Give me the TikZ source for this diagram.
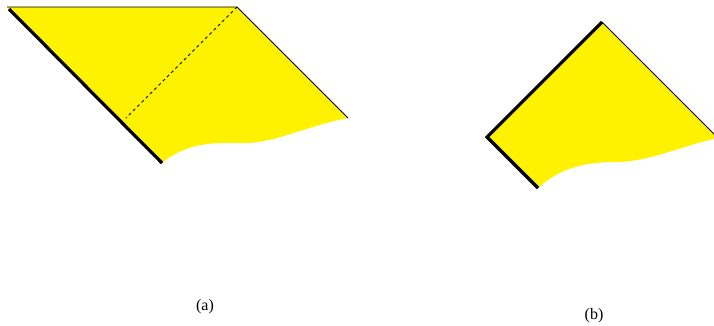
\documentclass[tikz,border=0pt]{standalone}
\usepackage{fontspec}
\setmainfont{Liberation Serif}
\begin{document}
\begin{tikzpicture}[x=1pt,y=-1pt,
  region/.style={fill=yellow,draw=none},
  thinedge/.style={line width=0.8pt},
  thickedge/.style={line width=3.2pt},
  lbl/.style={font=\fontsize{16}{18}\selectfont,inner sep=0pt}]
\useasboundingbox (0,0) rectangle (714,325);
\clip (0,0) rectangle (714,325);
% ---- (a)
\coordinate (a1) at (7,7);
\coordinate (a2) at (237,7);
\coordinate (a3) at (348,118);
\coordinate (a4) at (162,163);
\coordinate (a5) at (126,118);
\fill[region] (a1) -- (a2) -- (a3) .. controls (310,125) and (275,143) .. (245,143)
  .. controls (220,143) and (190,140) .. (a4) -- cycle;
\draw[thinedge] (a1) -- (a2) -- (a3);
\draw[thickedge] (9,9) -- (a4);
\draw[thinedge,dashed,dash pattern=on 3pt off 3pt] (a2) -- (a5);
\node[lbl] (la) at (205,307) {(a)};
% ---- (b)
\coordinate (b1) at (602,22);
\coordinate (b2) at (718,138);
\coordinate (b3) at (538,188);
\coordinate (b4) at (487,137);
\fill[region] (b1) -- (b2) .. controls (680,146) and (650,162) .. (615,162)
  .. controls (585,162) and (560,168) .. (b3) -- (b4) -- cycle;
\draw[thinedge] (b1) -- (b2);
\draw[thickedge,line join=miter] (b1) -- (b4) -- (b3);
\node[lbl] (lb) at (594,316) {(b)};
\end{tikzpicture}
\end{document}
